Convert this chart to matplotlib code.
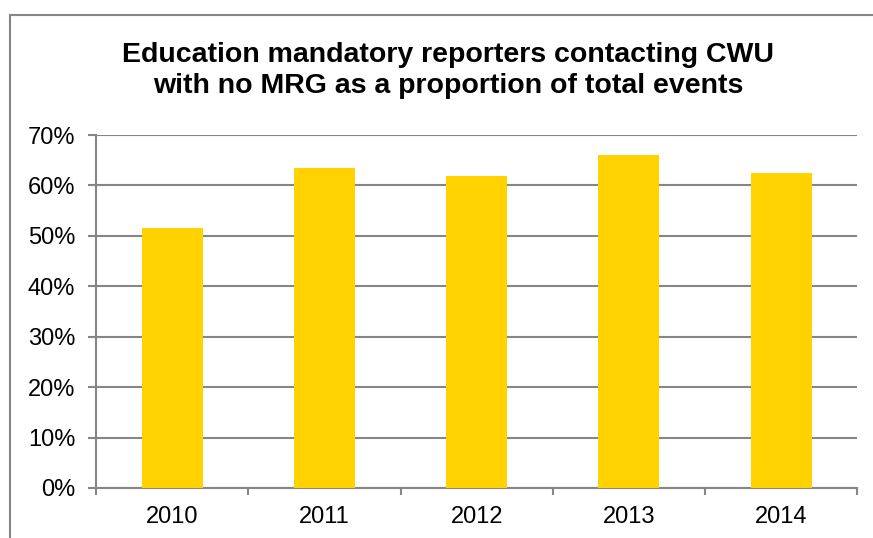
import matplotlib
matplotlib.use("Agg")
import matplotlib.pyplot as plt
from matplotlib.patches import Rectangle
from matplotlib.ticker import PercentFormatter
import numpy as np

years = ["2010", "2011", "2012", "2013", "2014"]
share = [0.516, 0.634, 0.619, 0.660, 0.625]

plt.rcParams['font.family'] = ['Liberation Sans', 'DejaVu Sans']
grey = '#868686'

fig = plt.figure(figsize=(8.73, 5.38), dpi=100)
ax = fig.add_axes([0.110, 0.093, 0.872, 0.656])

# outer chart border (runs off the right/bottom edges)
fig.patches.append(Rectangle((10 / 873, -0.05), 1.0, 1 - 15 / 538 + 0.05,
                             transform=fig.transFigure, fill=False,
                             edgecolor=grey, linewidth=1.5))

x = np.arange(len(years))
ax.bar(x, share, width=0.4, color='#FFD200', zorder=3)

ax.set_xlim(-0.5, len(years) - 0.5)
ax.set_ylim(0, 0.7)
ax.set_yticks(np.arange(0, 0.71, 0.1))
ax.yaxis.set_major_formatter(PercentFormatter(1.0, decimals=0))
ax.set_xticks(x)
ax.set_xticklabels(years)
ax.set_xticks(np.arange(-0.5, len(years)), minor=True)

ax.grid(axis='y', color=grey, linewidth=1.5, zorder=0)
for s in ['top', 'right']:
    ax.spines[s].set_visible(False)
for s in ['left', 'bottom']:
    ax.spines[s].set_color(grey)
    ax.spines[s].set_linewidth(1.5)

ax.tick_params(axis='y', length=6, color=grey, width=1.5, labelsize=17, pad=9)
ax.tick_params(axis='x', which='major', length=0, labelsize=17, pad=13)
ax.tick_params(axis='x', which='minor', length=5, color=grey, width=1.5)

fig.text(0.513, 0.869, "Education mandatory reporters contacting CWU\nwith no MRG as a proportion of total events",
         ha='center', va='center', fontsize=20.5, fontweight='bold', linespacing=1.25)

fig.savefig("out.png", dpi=100)
